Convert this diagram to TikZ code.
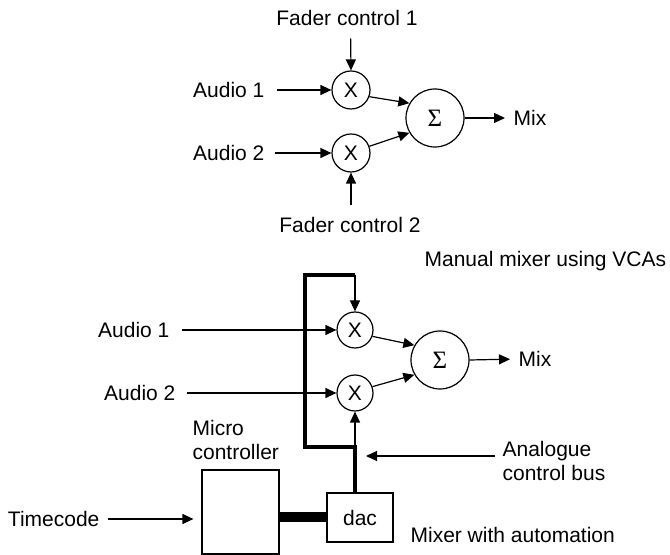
\documentclass[tikz,border=0pt]{standalone}
\usepackage{fontspec}
\setmainfont{Liberation Sans}
\newfontfamily\sigmafont{Liberation Serif}
\usetikzlibrary{arrows.meta}
\begin{document}
\begin{tikzpicture}[x=0.5pt,y=-0.5pt,
  font=\fontsize{10.5}{12}\selectfont,
  line width=0.6pt,
  lbl/.style={inner sep=0pt},
  mult/.style={draw,circle,inner sep=0pt,minimum size=#1},
  summ/.style={draw,circle,inner sep=0pt,minimum size=29pt,font=\fontsize{12.5}{14}\sigmafont},
  arr/.style={-{Triangle[length=5.5pt,width=5pt]}},
  bus/.style={line width=2pt},
  box/.style={draw,inner sep=0pt}]
\useasboundingbox (0,0) rectangle (670,555);
% ---------- top: manual mixer ----------
\node[lbl] (fc1) at (347,18) {Fader control 1};
\node[mult=19pt] (x1) at (351,90) {X};
\node[mult=19pt] (x2) at (351,153) {X};
\node[summ] (s1) at (435,118) {Σ};
\node[lbl,anchor=east] (a1) at (265,90) {Audio 1};
\node[lbl,anchor=east] (a2) at (265,153) {Audio 2};
\node[lbl] (fc2) at (350,225) {Fader control 2};
\node[lbl,anchor=west] (mix1) at (513,118) {Mix};
\draw[arr,shorten <=6pt] (fc1.south) ++(3.5,0) coordinate (fc1b) (fc1b) -- (x1.north);
\draw[arr,shorten <=6pt] (a1.east) -- (x1.west);
\draw[arr,shorten <=5pt] (a2.east) -- (x2.west);
\draw[arr,shorten <=6pt] (fc2.north) ++(1,0) coordinate (fc2t) (fc2t) -- (x2.south);
\draw[arr] (x1.-20) -- (s1.150);
\draw[arr] (x2.20) -- (s1.-150);
\draw[arr,shorten >=4pt] (s1.east) -- (mix1.west);
\node[lbl,anchor=west] (cap1) at (424,261) {Manual mixer using VCAs};
% ---------- bottom: automated mixer ----------
\node[mult=18pt] (x3) at (355,330) {X};
\node[mult=18pt] (x4) at (355,393) {X};
\node[summ] (s2) at (440,360) {Σ};
\node[lbl,anchor=east] (b1) at (170,330) {Audio 1};
\node[lbl,anchor=east] (b2) at (176,393) {Audio 2};
\node[lbl,anchor=west] (mix2) at (518,359) {Mix};
\draw[arr,shorten <=6pt] (b1.east) -- (x3.west);
\draw[arr,shorten <=5.5pt] (b2.east) -- (x4.west);
\draw[arr] (x3.-20) -- (s2.150);
\draw[arr] (x4.20) -- (s2.-150);
\draw[arr,shorten >=4pt] (s2.east) -- (mix2.west);
% boxes
\node[box,minimum width=38.5pt,minimum height=42pt] (mc) at (240.5,512) {};
\node[box,minimum width=33pt,minimum height=24.5pt] (dac) at (360,517.5) {dac};
\node[lbl,anchor=west,align=left] (mct) at (192,440) {Micro\\controller};
\node[lbl,anchor=east] (tc) at (100,519) {Timecode};
\draw[arr,shorten <=4pt,shorten >=4pt] (tc.east) -- (tc.east -| mc.west);
\draw[line width=5pt] (mc.east |- dac.west) -- (dac.west);
% analogue control bus
\coordinate (bt) at (355,275);
\coordinate (bb) at (355,447);
\coordinate (dtop) at (355,493);
\draw[bus,line join=miter] (dtop) -- (bb) -- (305,447) -- (305,275) -- (bt);
\draw[arr] (bt) -- (x3.north);
\draw[arr] (bb) -- (x4.south);
\node[lbl,anchor=west,align=left] (acb) at (502,460.5) {Analogue\\control bus};
\coordinate (acbs) at (495,456);
\coordinate (acbt) at (366,456);
\draw[arr] (acbs) -- (acbt);
\node[lbl,anchor=west] (cap2) at (410,535) {Mixer with automation};
\end{tikzpicture}
\end{document}
